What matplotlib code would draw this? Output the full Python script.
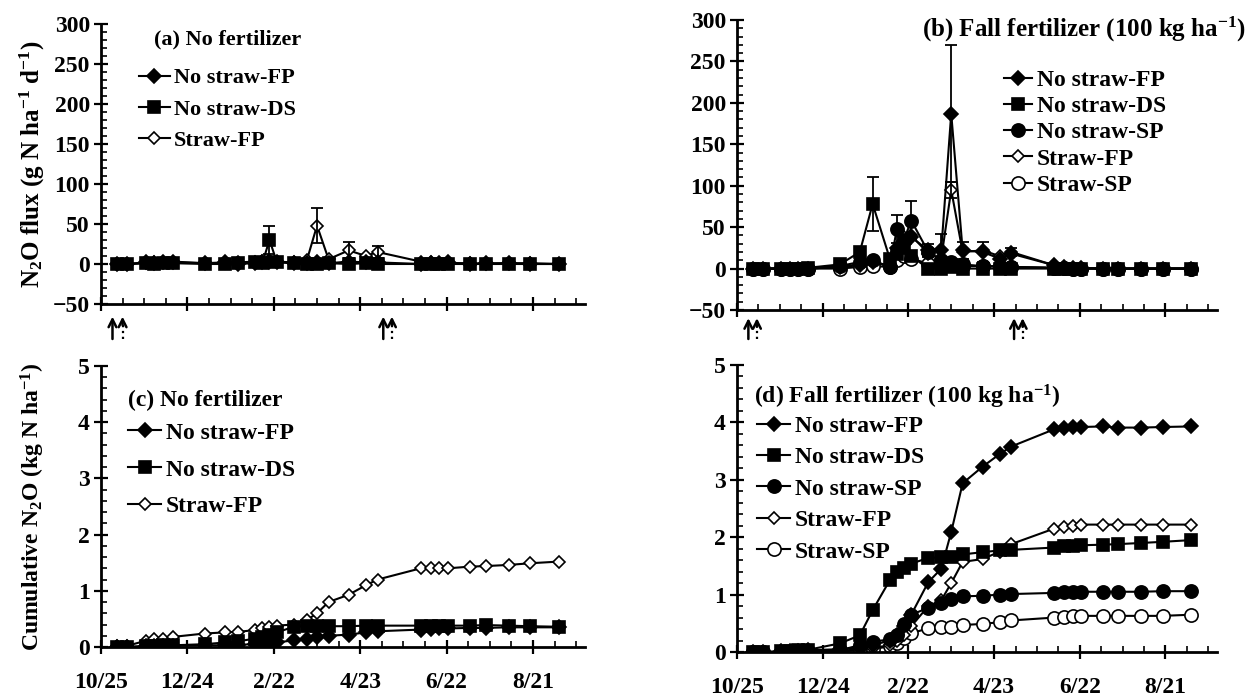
import numpy as np
import matplotlib
matplotlib.use('Agg')
import matplotlib.pyplot as plt
import matplotlib.transforms as mtransforms
from matplotlib.ticker import MultipleLocator

#=========================================================================
# sampling days, counted from 10/25
days = [11, 18, 31, 37, 43, 50, 72, 86, 95, 107, 112, 117, 122, 134, 143,
        150, 158, 172, 184, 192, 222, 229, 235, 241, 256, 267, 283, 298, 318]

date_ticks = [0, 60, 120, 180, 240, 300]
date_labels = ['10/25', '12/24', '2/22', '4/23', '6/22', '8/21']

# (a) N2O flux, no fertilizer (g N ha-1 d-1)
a_ns_fp = [0, 0, 2, 1, 2, 3, 1, 2, 0, 1, 2, 3, 2, 1, 1, 2, 1, 3, 2, 2, 0, 1, 1, 2, 0, 1, 1, 0, 0]
a_ns_ds = [0, 0, 1, 0, 1, 1, 0, 0, 1, 2, 1, 30, 3, 1, 0, 0, 1, 0, 1, 0, 0, 0, 0, 0, 0, 0, 0, 0, 0]
a_st_fp = [0, 0, 1, 2, 2, 2, 1, 1, 2, 3, 4, 5, 3, 2, 5, 48, 6, 17, 10, 15, 3, 2, 1, 1, 1, 0, 1, 1, 0]
a_ns_ds_err = [0]*11 + [18] + [0]*17
a_st_fp_err = [0]*15 + [22, 0, 10, 0, 7] + [0]*9

# (b) N2O flux, fall fertilizer
b_ns_fp = [0, 0, 0, 0, 0, 0, 2, 4, 8, 3, 25, 30, 38, 22, 22, 187, 22, 20, 12, 18, 4, 2, 1, 1, 0, 0, 0, 0, 0]
b_ns_ds = [0, 0, 0, 0, 0, 1, 5, 20, 78, 12, 18, 25, 15, 0, 0, 2, 0, 0, 0, 0, 0, 0, 0, 0, 0, 0, 0, 0, 0]
b_ns_sp = [0, 0, 0, 0, 0, 0, 3, 8, 10, 2, 48, 35, 58, 20, 10, 8, 5, 3, 3, 2, 1, 1, 0, 0, 0, 0, 0, 0, 0]
b_st_fp = [0, 0, 0, 0, 0, 0, 2, 5, 8, 3, 20, 38, 40, 18, 12, 95, 20, 22, 15, 20, 4, 2, 1, 1, 0, 0, 0, 0, 0]
b_st_sp = [0, 0, 0, 0, 0, 0, 0, 2, 3, 2, 10, 15, 12, 6, 4, 5, 3, 3, 2, 2, 1, 1, 0, 0, 0, 0, 0, 0, 0]
b_ns_fp_err = [0]*13 + [8, 20, 83, 10, 12] + [0]*11
b_ns_ds_err = [0]*7 + [5, 33] + [0]*20
b_ns_sp_err = [0]*10 + [17, 0, 24] + [0]*16
b_st_fp_err = [0]*15 + [10, 0, 0, 0, 5] + [0]*9

# (c) cumulative N2O, no fertilizer (kg N ha-1)
c_ns_fp = [0, 0, 0.01, 0.01, 0.01, 0.02, 0.03, 0.03, 0.04, 0.05, 0.06, 0.07, 0.08, 0.12, 0.15,
           0.18, 0.2, 0.22, 0.26, 0.28, 0.31, 0.32, 0.33, 0.33, 0.34, 0.34, 0.35, 0.35, 0.35]
c_ns_ds = [0, 0, 0.02, 0.02, 0.03, 0.03, 0.05, 0.08, 0.1, 0.15, 0.18, 0.21, 0.26, 0.36, 0.37,
           0.37, 0.37, 0.37, 0.38, 0.38, 0.38, 0.38, 0.38, 0.38, 0.38, 0.39, 0.38, 0.37, 0.36]
c_st_fp = [0.02, 0.02, 0.11, 0.14, 0.15, 0.18, 0.24, 0.26, 0.27, 0.3, 0.33, 0.36, 0.38, 0.4, 0.48,
           0.6, 0.8, 0.93, 1.1, 1.2, 1.4, 1.4, 1.4, 1.4, 1.43, 1.44, 1.46, 1.49, 1.52]

# (d) cumulative N2O, fall fertilizer
d_ns_fp = [0, 0, 0.01, 0.02, 0.02, 0.03, 0.05, 0.08, 0.12, 0.2, 0.3, 0.45, 0.65, 1.22, 1.45,
           2.09, 2.94, 3.23, 3.45, 3.58, 3.88, 3.9, 3.92, 3.92, 3.93, 3.91, 3.91, 3.92, 3.93]
d_ns_ds = [0, 0, 0.01, 0.02, 0.03, 0.04, 0.15, 0.29, 0.73, 1.25, 1.4, 1.47, 1.54, 1.64, 1.65,
           1.66, 1.7, 1.74, 1.77, 1.78, 1.82, 1.84, 1.85, 1.86, 1.87, 1.88, 1.9, 1.92, 1.95]
d_ns_sp = [0, 0, 0, 0.01, 0.01, 0.02, 0.03, 0.12, 0.18, 0.22, 0.3, 0.48, 0.65, 0.77, 0.86,
           0.93, 0.97, 0.98, 1.0, 1.01, 1.03, 1.04, 1.04, 1.05, 1.05, 1.05, 1.05, 1.06, 1.06]
d_st_fp = [0, 0, 0, 0.01, 0.01, 0.01, 0.02, 0.05, 0.07, 0.12, 0.2, 0.3, 0.45, 0.8, 0.9,
           1.2, 1.57, 1.62, 1.75, 1.88, 2.15, 2.18, 2.2, 2.22, 2.22, 2.22, 2.22, 2.22, 2.22]
d_st_sp = [0, 0, 0, 0, 0.01, 0.01, 0.01, 0.03, 0.05, 0.1, 0.15, 0.25, 0.33, 0.41, 0.43,
           0.44, 0.47, 0.49, 0.52, 0.55, 0.6, 0.61, 0.62, 0.63, 0.63, 0.63, 0.63, 0.63, 0.65]

# fertilizer / tillage arrows (days): (solid, dotted)
a_arrows = [(8, 15), (196, 202)]
b_arrows = [(8, 14), (194, 200)]

#=========================================================================
plt.rcParams['font.family'] = 'Liberation Serif'
plt.rcParams['font.weight'] = 'bold'
plt.rcParams['axes.labelweight'] = 'bold'
plt.rcParams['mathtext.fontset'] = 'custom'
plt.rcParams['mathtext.rm'] = 'Liberation Serif:bold'
plt.rcParams['mathtext.it'] = 'Liberation Serif:bold'
plt.rcParams['mathtext.bf'] = 'Liberation Serif:bold'

styles = {
  'No straw-FP': dict(marker='D', ms=7, mfc='k'),
  'No straw-DS': dict(marker='s', ms=8.5, mfc='k'),
  'No straw-SP': dict(marker='o', ms=9.5, mfc='k'),
  'Straw-FP':    dict(marker='D', ms=6, mfc='white'),
  'Straw-SP':    dict(marker='o', ms=9.5, mfc='white'),
}

def style_axis(ax, ylim, ymajor, yminor, xlabels):
  ax.set_xlim(0, 336)
  ax.set_ylim(*ylim)
  for s in ['top', 'right']:
    ax.spines[s].set_visible(False)
  for s in ['left', 'bottom']:
    ax.spines[s].set_linewidth(2.0)
  ax.xaxis.set_major_locator(plt.FixedLocator(date_ticks))
  ax.xaxis.set_minor_locator(MultipleLocator(15))
  ax.yaxis.set_major_locator(MultipleLocator(ymajor))
  ax.yaxis.set_minor_locator(MultipleLocator(yminor))
  ax.tick_params(axis='both', which='major', direction='inout', length=10, width=1.6,
                 labelsize=17)
  ax.tick_params(axis='both', which='minor', direction='in', length=4, width=1.2)
  ax.tick_params(axis='y', which='major', pad=3)
  if xlabels:
    ax.set_xticks(date_ticks)
    ax.set_xticklabels(date_labels)
    ax.tick_params(axis='x', which='major', pad=13)
  else:
    ax.set_xticklabels([])

def plot_series(ax, series, errs={}):
  x = np.array(days)
  handles = {}
  # filled (no straw) markers drawn last so they sit on top, as in the original
  for name, vals in series[::-1]:
    ln, = ax.plot(x, vals, color='k', lw=1.5, mec='k', mew=1.2, label=name, **styles[name])
    handles[name] = ln
    if name in errs:
      e = np.array(errs[name])
      v = np.array(vals)
      m = e > 0
      ax.errorbar(x[m], v[m], yerr=e[m], fmt='none', ecolor='k', elinewidth=1.3,
                  capsize=4, capthick=1.3)
  return [handles[name] for name, vals in series]

def draw_arrows(ax, pairs, yhead, ytail):
  trans = mtransforms.blended_transform_factory(ax.transData, ax.transAxes)
  aprops = dict(arrowstyle='->', lw=1.8, color='k', shrinkA=0, shrinkB=0, mutation_scale=14)
  for solid, dotted in pairs:
    ax.annotate('', xy=(solid, yhead), xycoords=trans, xytext=(solid, ytail), textcoords=trans,
                arrowprops=aprops, annotation_clip=False)
    ax.plot([dotted, dotted], [ytail, yhead - 0.02], transform=trans, color='k', lw=1.6,
            ls=':', clip_on=False)
    ax.annotate('', xy=(dotted, yhead), xycoords=trans, xytext=(dotted, yhead - 0.03),
                textcoords=trans, arrowprops=aprops, annotation_clip=False)

def add_legend(ax, handles, x, y, size, spacing, hlen):
  ax.legend(handles=handles, loc='upper left', bbox_to_anchor=(x, y), frameon=False,
            fontsize=size, handlelength=hlen, handletextpad=0.2, labelspacing=spacing,
            borderpad=0, borderaxespad=0)

#=========================================================================
fig = plt.figure(figsize=(12.48, 6.99), dpi=100)
ax_a = fig.add_axes([0.0809, 0.5651, 0.3878, 0.4006])
ax_b = fig.add_axes([0.5905, 0.5565, 0.3846, 0.4149])
ax_c = fig.add_axes([0.0809, 0.0744, 0.3878, 0.4020])
ax_d = fig.add_axes([0.5905, 0.0672, 0.3846, 0.4106])

# (a)
h = plot_series(ax_a, [('No straw-FP', a_ns_fp), ('No straw-DS', a_ns_ds), ('Straw-FP', a_st_fp)],
                {'No straw-DS': a_ns_ds_err, 'Straw-FP': a_st_fp_err})
style_axis(ax_a, (-50, 300), 50, 10, False)
ax_a.set_ylabel('N$_2$O flux (g N ha$^{-1}$ d$^{-1}$)', fontsize=18, labelpad=4)
ax_a.text(0.11, 0.943, '(a) No fertilizer', transform=ax_a.transAxes, fontsize=16,
          va='center', ha='left')
add_legend(ax_a, h, 0.078, 0.843, 16, 0.48, 1.4)
draw_arrows(ax_a, a_arrows, -0.045, -0.125)

# (b)
h = plot_series(ax_b, [('No straw-FP', b_ns_fp), ('No straw-DS', b_ns_ds), ('No straw-SP', b_ns_sp),
                       ('Straw-FP', b_st_fp), ('Straw-SP', b_st_sp)],
                {'No straw-FP': b_ns_fp_err, 'No straw-DS': b_ns_ds_err,
                 'No straw-SP': b_ns_sp_err, 'Straw-FP': b_st_fp_err})
style_axis(ax_b, (-50, 300), 50, 10, False)
ax_b.text(1.06, 0.966, '(b) Fall fertilizer (100 kg ha$^{-1}$)', transform=ax_b.transAxes,
          fontsize=18, va='center', ha='right', clip_on=False)
add_legend(ax_b, h, 0.556, 0.83, 17, 0.2, 1.2)
draw_arrows(ax_b, b_arrows, -0.028, -0.10)

# (c)
h = plot_series(ax_c, [('No straw-FP', c_ns_fp), ('No straw-DS', c_ns_ds), ('Straw-FP', c_st_fp)])
style_axis(ax_c, (0, 5), 1, 0.2, True)
ax_c.set_ylabel('Cumulative N$_2$O (kg N ha$^{-1}$)', fontsize=17, labelpad=22)
ax_c.text(0.056, 0.879, '(c) No fertilizer', transform=ax_c.transAxes, fontsize=17,
          va='center', ha='left')
add_legend(ax_c, h, 0.056, 0.80, 17, 0.65, 1.4)

# (d)
h = plot_series(ax_d, [('No straw-FP', d_ns_fp), ('No straw-DS', d_ns_ds), ('No straw-SP', d_ns_sp),
                       ('Straw-FP', d_st_fp), ('Straw-SP', d_st_sp)])
style_axis(ax_d, (0, 5), 1, 0.2, True)
ax_d.text(0.035, 0.89, '(d) Fall fertilizer (100 kg ha$^{-1}$)', transform=ax_d.transAxes,
          fontsize=17, va='center', ha='left')
add_legend(ax_d, h, 0.042, 0.825, 17, 0.42, 1.4)

fig.savefig('out.png', dpi=100)
